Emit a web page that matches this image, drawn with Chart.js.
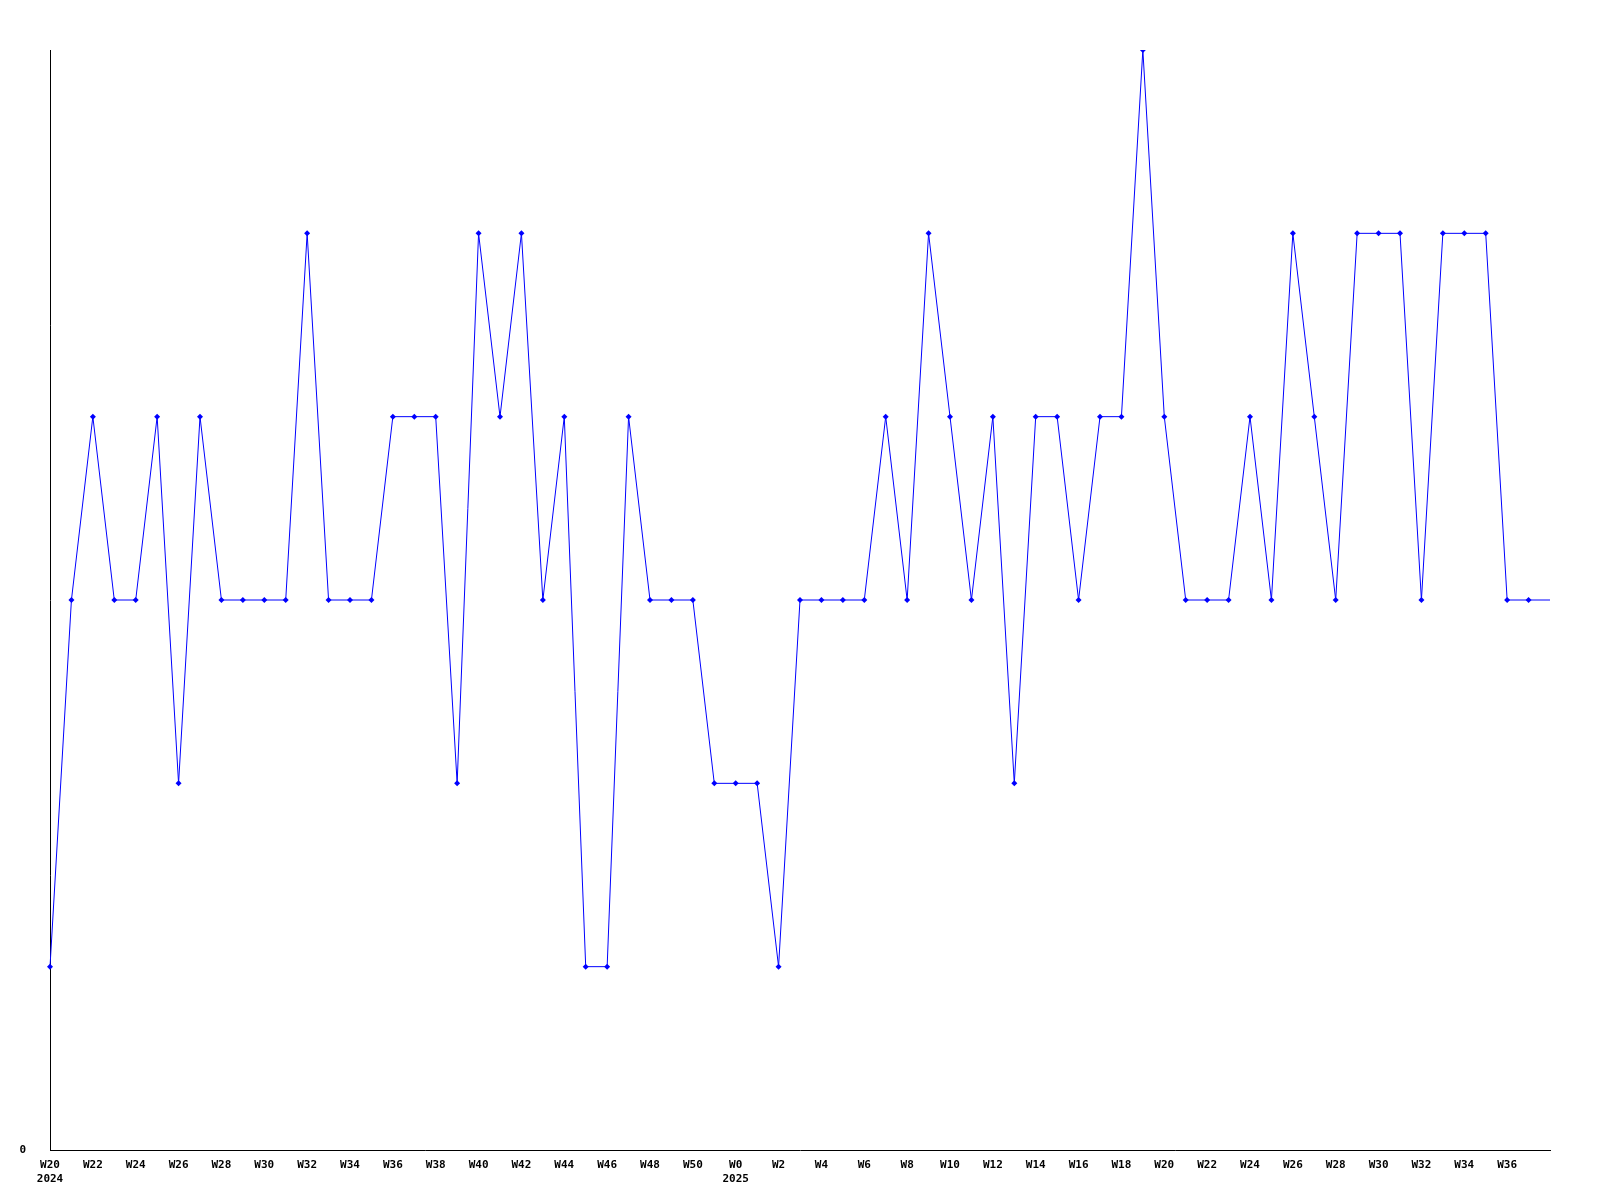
<!DOCTYPE html>
<html>
<head>
<meta charset="utf-8">
<script src="https://cdn.jsdelivr.net/npm/chart.js@4/dist/chart.umd.min.js"></script>
<style>
  body { margin: 0; background: #fff; }
  canvas { display: block; }
</style>
</head>
<body>
<canvas id="myChart" width="1600" height="1200"></canvas>
<script>
// weeks on the x axis, 2024 W20 .. 2025 W38
const weeks = ["W20","W21","W22","W23","W24","W25","W26","W27","W28","W29","W30","W31","W32","W33","W34","W35",
  "W36","W37","W38","W39","W40","W41","W42","W43","W44","W45","W46","W47","W48","W49","W50","W51",
  "W0","W1","W2","W3","W4","W5","W6","W7","W8","W9","W10","W11","W12","W13","W14","W15",
  "W16","W17","W18","W19","W20","W21","W22","W23","W24","W25","W26","W27","W28","W29","W30","W31",
  "W32","W33","W34","W35","W36","W37","W38"];
// year shown under the first week of each year
const years = {0: "2024", 32: "2025"};
const counts = [1,3,4,3,3,4,2,4,3,3,3,3,5,3,3,3,
  4,4,4,2,5,4,5,3,4,1,1,4,3,3,3,2,
  2,2,1,3,3,3,3,4,3,5,4,3,4,2,4,4,
  3,4,4,6,4,3,3,3,4,3,5,4,3,5,5,5,
  3,5,5,5,3,3,3];
const yMax = 6;

// current week has no marker and no label
const last = counts.length - 1;
const radii = counts.map((v, i) => i === last ? 0 : 3);

new Chart("myChart", {
  type: "line",
  data: {
    labels: weeks,
    datasets: [{
      data: counts,
      borderColor: "#0000ff",
      backgroundColor: "#0000ff",
      borderWidth: 1,
      pointStyle: "rectRot",
      pointRadius: radii,
      pointBorderWidth: 0,
      tension: 0
    }]
  },
  options: {
    responsive: false,
    animation: false,
    layout: { padding: { top: 50, right: 50, left: 0, bottom: 0 } },
    plugins: { legend: { display: false }, tooltip: { enabled: false } },
    scales: {
      x: {
        offset: false,
        grid: { display: false },
        border: { display: true, color: "#000", width: 1 },
        afterFit: s => { s.height = 50; },
        ticks: {
          autoSkip: false,
          maxRotation: 0,
          padding: 0,
          color: "#000",
          font: { family: "DejaVu Sans Mono", size: 11, weight: "bold", lineHeight: 1.3 },
          callback: function (v, i) {
            if (i % 2 !== 0 || i === last) return "";
            return years[i] ? [weeks[i], years[i]] : weeks[i];
          }
        }
      },
      y: {
        min: 0,
        max: yMax,
        grid: { display: false, drawTicks: false },
        border: { display: true, color: "#000", width: 1 },
        afterFit: s => { s.width = 50; },
        ticks: {
          stepSize: 1,
          padding: 24,
          color: "#000",
          font: { family: "DejaVu Sans Mono", size: 11, weight: "bold" },
          callback: v => v === 0 ? "0" : ""
        }
      }
    }
  }
});
</script>
</body>
</html>
